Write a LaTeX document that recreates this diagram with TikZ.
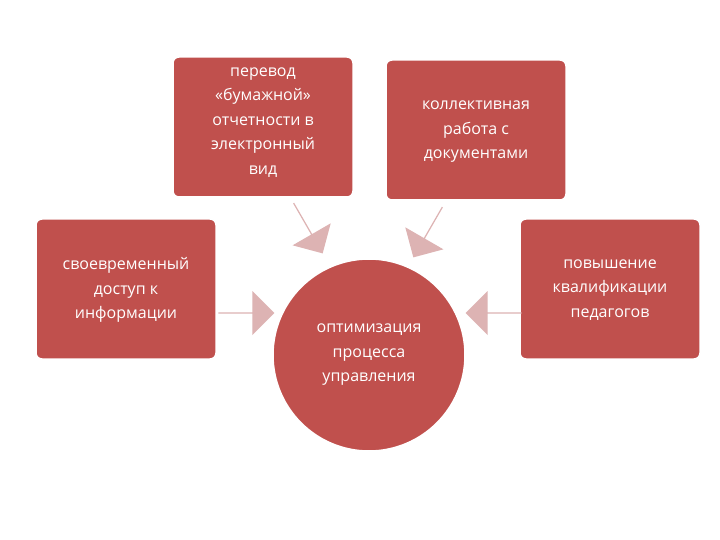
\documentclass[tikz,border=0pt]{standalone}
\usepackage{fontspec}
\setmainfont{Open Sans}
\usetikzlibrary{shapes.arrows,shapes.geometric}
\definecolor{boxred}{HTML}{C0504D}
\definecolor{arrpink}{HTML}{DDB3B3}
\tikzset{
 box/.style={fill=boxred,draw=white,line width=1.5pt,rounded corners=6pt,minimum width=180pt,minimum height=140pt,inner sep=0pt},
 txt/.style={text=white,align=center,font=\fontsize{16}{24.5}\selectfont},
 barrow/.style={single arrow,fill=arrpink,draw=none,minimum height=56pt,minimum width=44pt,single arrow head extend=7pt,inner sep=0pt,single arrow tip angle=90}
}
\begin{document}
\begin{tikzpicture}[x=1pt,y=-1pt]
\useasboundingbox (0,0) rectangle (720,540);
\fill[white] (0,0) rectangle (720,540);
\node[box] (tl) at (263,127) {};
\node[txt,anchor=north] at (263,64) {перевод\\«бумажной»\\отчетности в\\электронный\\вид};
\node[box] (tr) at (476,130) {};
\node[txt] at (476,132) {коллективная\\работа с\\документами};
\node[box] (l) at (126,289) {};
\node[txt] at (126,290) {своевременный\\доступ к\\информации};
\node[box] (r) at (610,289) {};
\node[txt] at (610,290) {повышение\\квалификации\\педагогов};
\node[circle,fill=boxred,draw=white,line width=1.5pt,minimum size=192pt] (c) at (369,355) {};
\node[txt] at (369,355) {оптимизация\\процесса\\управления};
\node[barrow,rotate=-60,minimum height=58pt] (a1) at (308,228) {};
\node[barrow,rotate=-120,minimum height=58pt] (a2) at (428,232) {};
\node[barrow,rotate=0] (a3) at (246,313) {};
\node[barrow,rotate=180] (a4) at (494,313) {};
\end{tikzpicture}
\end{document}
